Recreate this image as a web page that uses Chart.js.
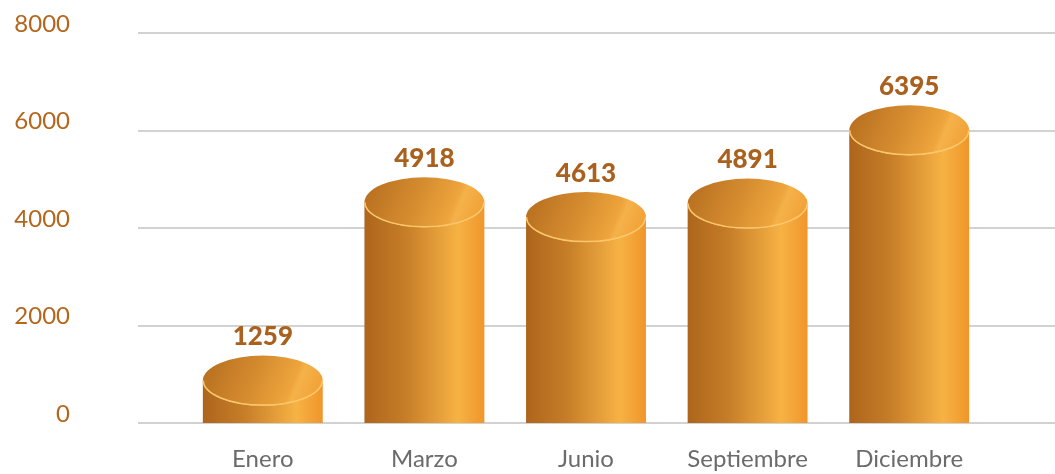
<!DOCTYPE html>
<html>
<head>
<meta charset="utf-8">
<script src="https://cdn.jsdelivr.net/npm/chart.js@4"></script>
<style>
  html, body { margin: 0; padding: 0; background: #fff; overflow: hidden; }
  canvas { display: block; }
</style>
</head>
<body>
<canvas id="chart" width="1055" height="474"></canvas>
<script>
const categories = ['Enero', 'Marzo', 'Junio', 'Septiembre', 'Diciembre']
const sales = [1259, 4918, 4613, 4891, 6395]
const yTicks = [0, 2000, 4000, 6000, 8000]

// Draw the grid lines full width, under the bars
const gridPlugin = {
  id: 'fullGrid',
  beforeDatasetsDraw(chart) {
    const ctx = chart.ctx
    const y = chart.scales.y
    ctx.save()
    ctx.strokeStyle = '#d2d2d2'
    ctx.lineWidth = 2
    yTicks.forEach(v => {
      const py = Math.round(y.getPixelForValue(v))
      ctx.beginPath()
      ctx.moveTo(138, py)
      ctx.lineTo(chart.width, py)
      ctx.stroke()
    })
    ctx.restore()
  }
}

// Turn each bar into a cylinder and write its value above it
const cylinderPlugin = {
  id: 'cylinders',
  afterDatasetsDraw(chart) {
    const ctx = chart.ctx
    const meta = chart.getDatasetMeta(0)
    meta.data.forEach((bar, i) => {
      const rx = bar.width / 2
      const ry = 25
      const left = bar.x - rx
      const right = bar.x + rx
      const top = bar.y - 6
      const cy = top + ry
      const base = bar.base

      ctx.save()
      // body
      const g = ctx.createLinearGradient(left, 0, right, 0)
      g.addColorStop(0, '#ad651c')
      g.addColorStop(0.35, '#c77e28')
      g.addColorStop(0.78, '#f7b244')
      g.addColorStop(1, '#f0962a')
      ctx.fillStyle = g
      ctx.beginPath()
      ctx.moveTo(left, cy)
      ctx.lineTo(left, base)
      ctx.lineTo(right, base)
      ctx.lineTo(right, cy)
      ctx.ellipse(bar.x, cy, rx, ry, 0, 0, Math.PI, false)
      ctx.closePath()
      ctx.fill()

      // top cap
      const t = ctx.createLinearGradient(left, top, right, cy + ry)
      t.addColorStop(0, '#b56c1e')
      t.addColorStop(0.45, '#d68d30')
      t.addColorStop(0.72, '#eea53c')
      t.addColorStop(0.76, '#f5b24a')
      t.addColorStop(1, '#f09a2e')
      ctx.fillStyle = t
      ctx.beginPath()
      ctx.ellipse(bar.x, cy, rx, ry, 0, 0, Math.PI * 2)
      ctx.fill()

      // highlight on the front rim
      ctx.strokeStyle = '#fcc76a'
      ctx.lineWidth = 1.5
      ctx.beginPath()
      ctx.ellipse(bar.x, cy, rx - 0.5, ry - 0.5, 0, 0, Math.PI, false)
      ctx.stroke()

      // value label
      ctx.fillStyle = '#a9611d'
      ctx.font = '900 26px Lato'
      ctx.textAlign = 'center'
      ctx.textBaseline = 'middle'
      ctx.fillText(String(sales[i]), bar.x, top - 19)
      ctx.restore()
    })
  }
}

new Chart(document.getElementById('chart'), {
  type: 'bar',
  data: {
    labels: categories,
    datasets: [{
      data: sales,
      backgroundColor: 'rgba(0,0,0,0)',
      borderWidth: 0,
      categoryPercentage: 1,
      barPercentage: 0.742
    }]
  },
  options: {
    responsive: false,
    animation: false,
    layout: { padding: { top: 33, right: 65, left: 0, bottom: 0 } },
    plugins: {
      legend: { display: false },
      tooltip: { enabled: false }
    },
    scales: {
      x: {
        grid: { display: false },
        border: { display: false },
        ticks: {
          color: '#6b6b6b',
          font: { family: 'Lato', size: 24 },
          padding: 14,
          maxRotation: 0
        },
        afterFit(scale) {
          scale.height = 51
          scale.paddingLeft = 0
          scale.paddingRight = 0
        }
      },
      y: {
        min: 0,
        max: 8000,
        grid: { display: false, drawTicks: false },
        border: { display: false },
        ticks: {
          stepSize: 2000,
          color: '#b5661d',
          font: { family: 'Lato', size: 24 },
          padding: 112,
          labelOffset: -9,
          callback: v => String(v)
        },
        // tick padding leaks into top/bottom padding, so drop it here
        afterFit(scale) {
          scale.width = 182
          scale.paddingTop = 0
          scale.paddingBottom = 0
        }
      }
    }
  },
  plugins: [gridPlugin, cylinderPlugin]
})
</script>
</body>
</html>
